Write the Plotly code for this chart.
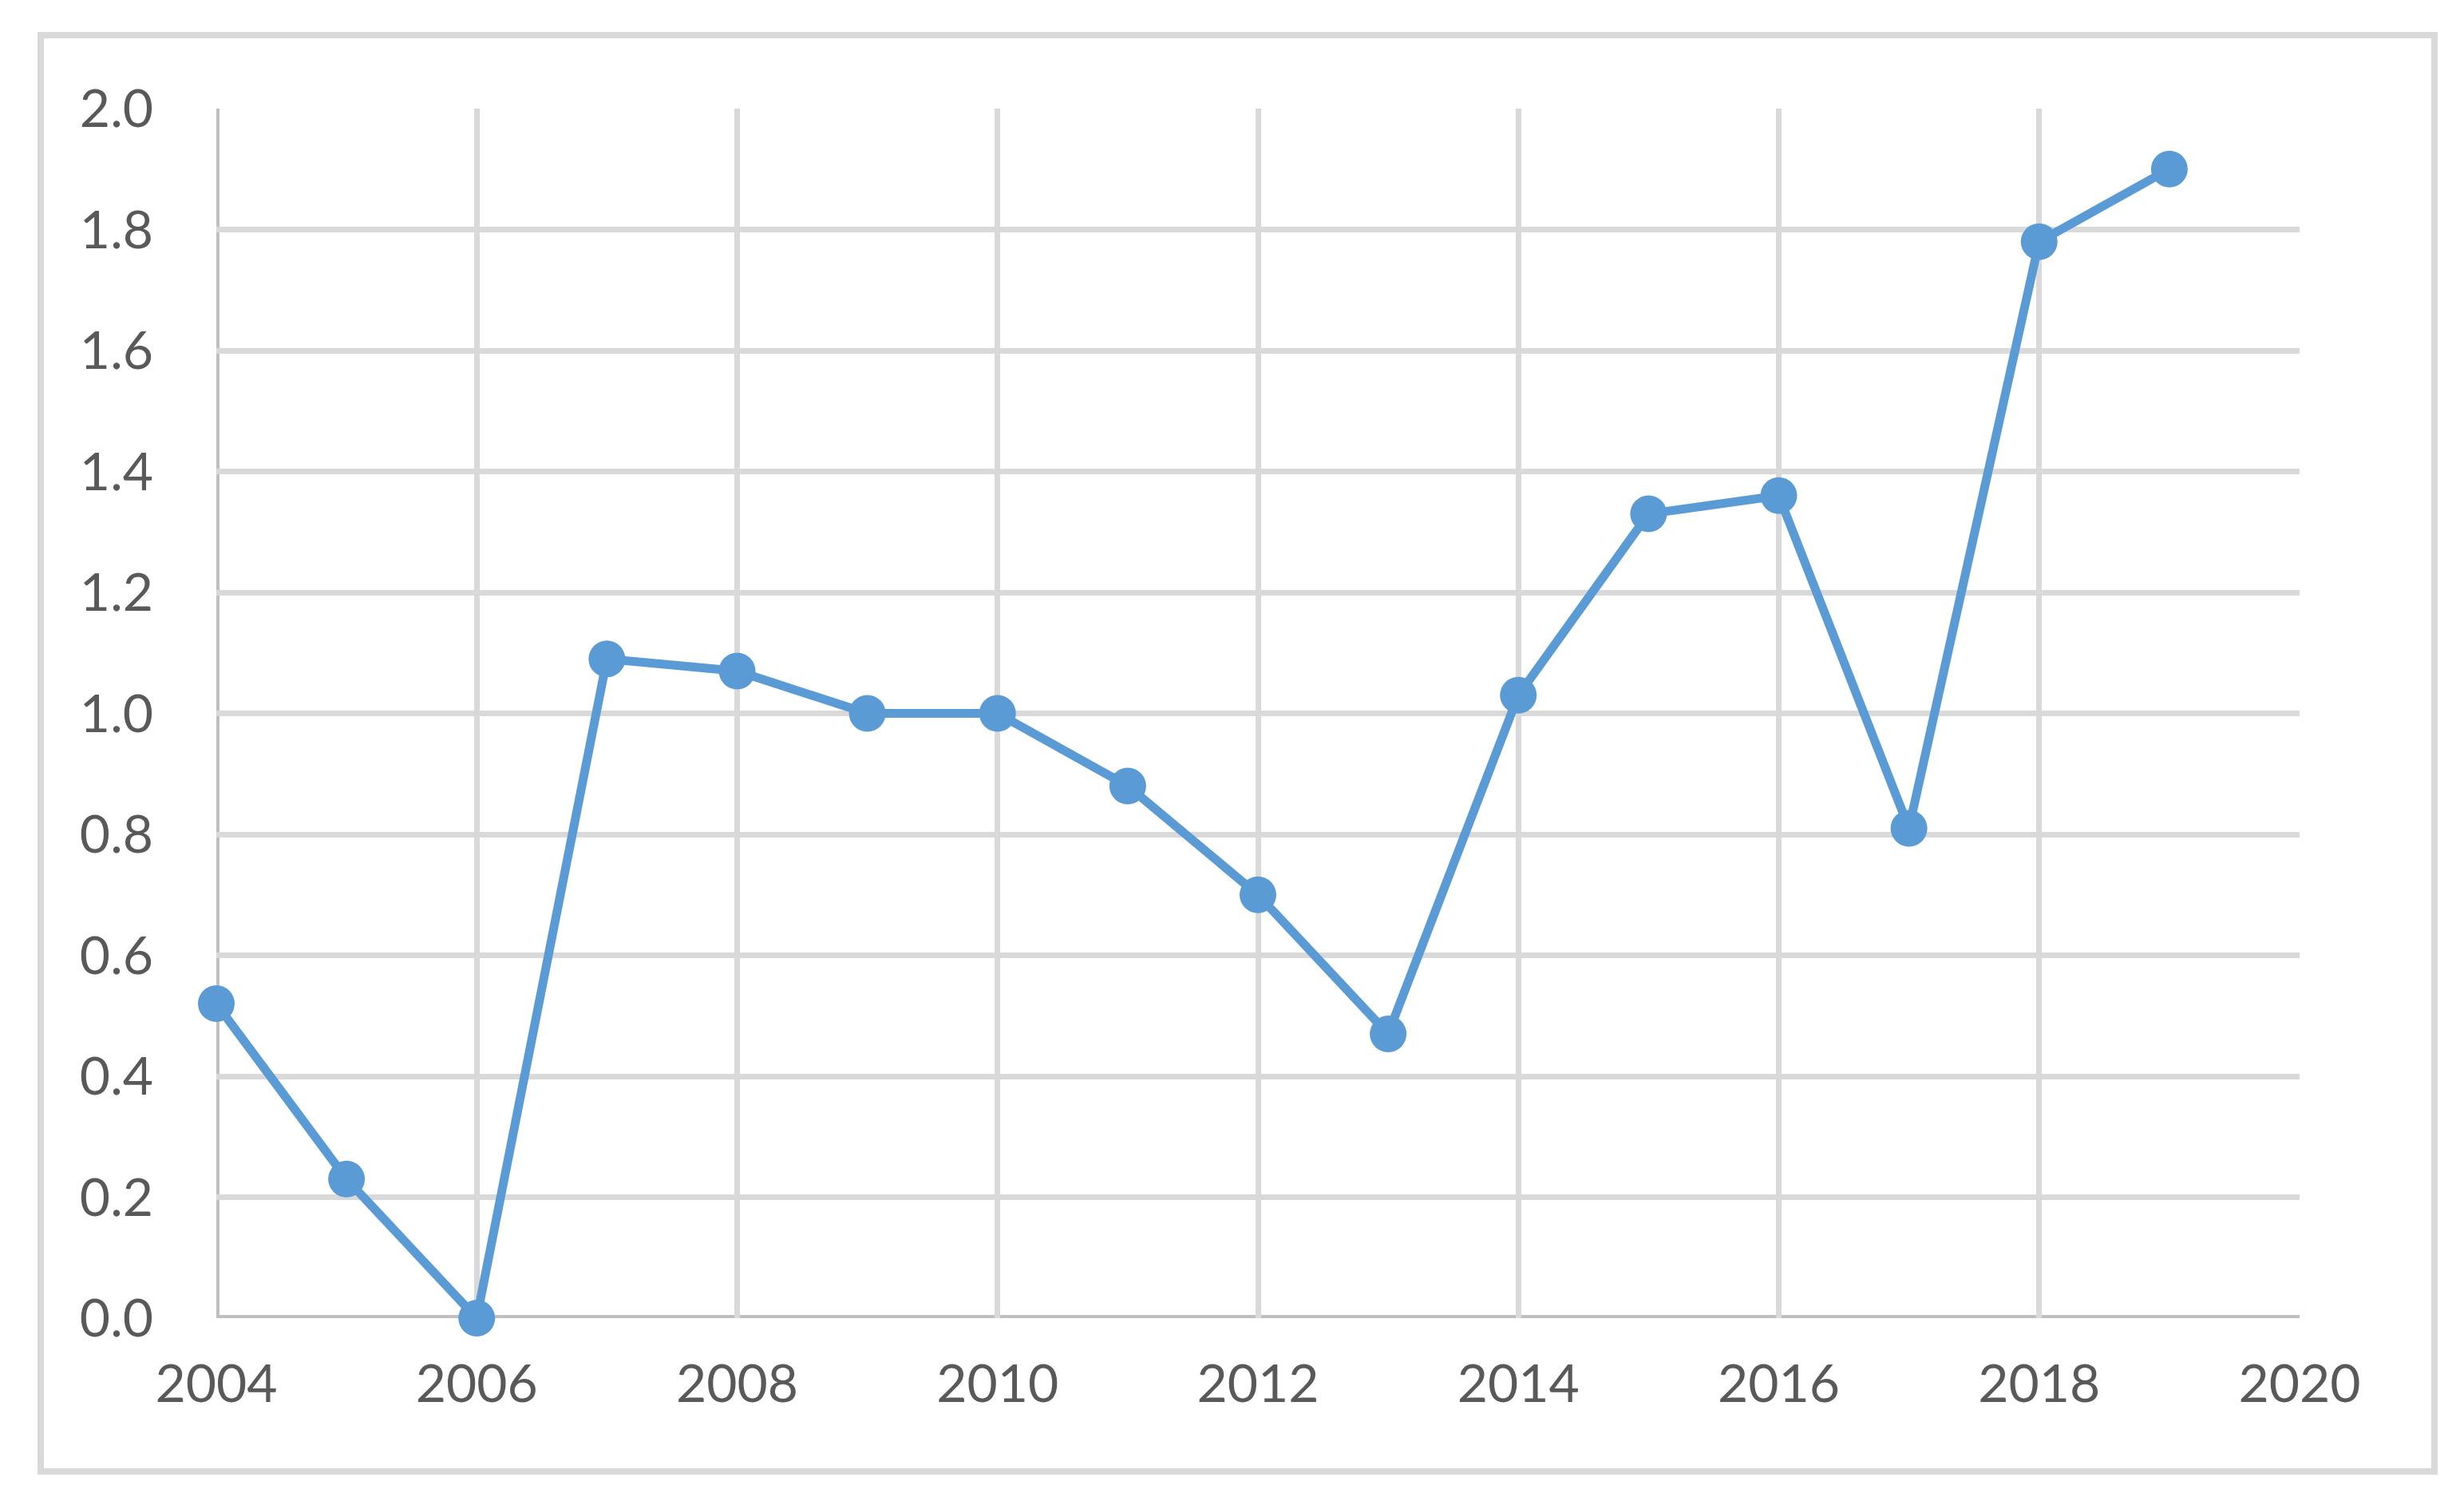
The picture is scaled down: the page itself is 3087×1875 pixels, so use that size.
import plotly.graph_objects as go

years = [2004, 2005, 2006, 2007, 2008, 2009, 2010, 2011, 2012, 2013, 2014, 2015, 2016, 2017, 2018, 2019]
values = [0.52, 0.23, 0.00, 1.09, 1.07, 1.00, 1.00, 0.88, 0.70, 0.47, 1.03, 1.33, 1.36, 0.81, 1.78, 1.90]
x_range = [2004, 2020]
y_range = [0, 2.0]

W, H = 3087, 1875
L, R, T, B = 263, 2873, 128, 1643
pw, ph = R - L, B - T

def px(x):
    return (x - L) / pw

def py(y):
    return (B - y) / ph

fig = go.Figure()
fig.add_trace(go.Scatter(
    x=years, y=values, mode="lines+markers",
    line=dict(color="#5b9bd5", width=11),
    marker=dict(color="#5b9bd5", size=46),
    cliponaxis=False, showlegend=False,
))

font = dict(family="Lato, Open Sans, sans-serif", size=66, color="#595959")

fig.update_layout(
    width=W, height=H,
    margin=dict(l=L, r=W - R, t=T, b=H - B, pad=0),
    paper_bgcolor="white", plot_bgcolor="white",
    font=font,
    xaxis=dict(range=x_range, tick0=2004, dtick=2, showgrid=True,
               gridcolor="#d9d9d9", gridwidth=7, showline=False,
               zeroline=False, ticks="", ticklabelstandoff=38, tickfont=font),
    yaxis=dict(range=y_range, tick0=0, dtick=0.2, tickformat=".1f",
               showgrid=True, gridcolor="#d9d9d9", gridwidth=7,
               showline=False, zeroline=False, ticks="",
               ticklabelstandoff=78, tickfont=font),
    shapes=[
        dict(type="rect", xref="paper", yref="paper",
             x0=px(43), x1=px(3042), y0=py(1835), y1=py(36),
             line=dict(color="#d9d9d9", width=8), layer="below"),
        dict(type="line", xref="x", yref="paper", x0=x_range[0], x1=x_range[0],
             y0=0, y1=1, line=dict(color="#bfbfbf", width=8), layer="between"),
        dict(type="line", xref="paper", yref="y", x0=0, x1=1,
             y0=y_range[0], y1=y_range[0], line=dict(color="#bfbfbf", width=8),
             layer="between"),
    ],
)

fig.write_html("out.html")
